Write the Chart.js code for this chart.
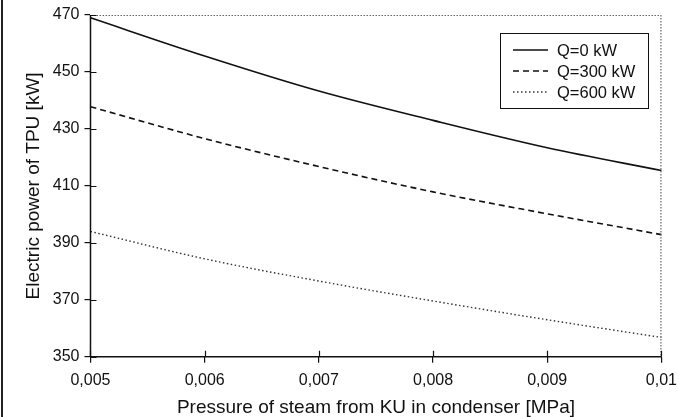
<!DOCTYPE html>
<html>
<head>
<meta charset="utf-8">
<script src="https://cdn.jsdelivr.net/npm/chart.js@4.4.1/dist/chart.umd.min.js"></script>
<style>
  html, body { margin: 0; padding: 0; background: #fff; }
  #wrap { width: 685px; height: 417px; position: relative; }
</style>
</head>
<body>
<div id="wrap"><canvas id="c" width="685" height="417"></canvas></div>
<script>
// ---- data ----
const xTickLabels = ['0,005', '0,006', '0,007', '0,008', '0,009', '0,01'];
const seriesLabels = ['Q=0 kW', 'Q=300 kW', 'Q=600 kW'];
const q0 = [469.0, 455.6, 443.3, 433.0, 423.4, 415.4];
const q300 = [437.8, 426.6, 416.8, 407.9, 400.2, 392.9];
const q600 = [394.0, 384.4, 376.6, 369.6, 363.0, 356.8];
const yMin = 350, yMax = 470, yStep = 20;
const xTitle = 'Pressure of steam from KU in condenser [MPa]';
const yTitle = 'Electric power of TPU [kW]';

const FONT = 'Liberation Sans, Arial, sans-serif';
const INK = '#111';

const framePlugin = {
  id: 'frame',
  beforeDraw(chart) {
    const ctx = chart.ctx;
    ctx.save();
    ctx.fillStyle = '#fff';
    ctx.fillRect(0, 0, chart.width, chart.height);
    ctx.strokeStyle = '#222';
    ctx.lineWidth = 2;
    ctx.beginPath();
    ctx.moveTo(2, 0); ctx.lineTo(2, chart.height);
    ctx.stroke();
    ctx.restore();
  },
  afterDraw(chart) {
    const ctx = chart.ctx;
    const a = chart.chartArea;
    const xs = chart.scales.x, ys = chart.scales.y;
    ctx.save();
    ctx.strokeStyle = '#666';
    ctx.lineWidth = 1.2;
    ctx.setLineDash([1.5, 1.5]);
    ctx.beginPath();
    ctx.moveTo(a.left, a.top + 0.5); ctx.lineTo(a.right, a.top + 0.5);
    ctx.moveTo(a.right - 0.5, a.top); ctx.lineTo(a.right - 0.5, a.bottom);
    ctx.stroke();
    ctx.setLineDash([]);
    ctx.strokeStyle = INK;
    ctx.lineWidth = 1.5;
    ctx.beginPath();
    ctx.moveTo(a.left, a.top); ctx.lineTo(a.left, a.bottom);
    ctx.moveTo(a.left, a.bottom); ctx.lineTo(a.right, a.bottom);
    ctx.stroke();
    ctx.lineWidth = 1.2;
    ctx.beginPath();
    ys.ticks.forEach(t => {
      const y = Math.round(ys.getPixelForValue(t.value)) + 0.5;
      ctx.moveTo(a.left, y); ctx.lineTo(a.left + 6, y);
    });
    xs.ticks.forEach((t, i) => {
      const x = Math.round(xs.getPixelForTick(i)) + 0.5;
      ctx.moveTo(x, a.bottom); ctx.lineTo(x, a.bottom - 6);
    });
    ctx.stroke();
    // legend box
    const bx = 500, by = 33, bw = 148, bh = 75;
    ctx.fillStyle = '#fff';
    ctx.fillRect(bx, by, bw, bh);
    ctx.strokeStyle = INK;
    ctx.lineWidth = 1;
    ctx.strokeRect(bx + 0.5, by + 0.5, bw, bh);
    ctx.font = '16.5px ' + FONT;
    ctx.textBaseline = 'middle';
    ctx.fillStyle = INK;
    chart.data.datasets.forEach((ds, i) => {
      const y = by + 17 + i * 21;
      ctx.strokeStyle = ds.borderColor;
      ctx.lineWidth = ds.borderWidth;
      ctx.setLineDash(ds.borderDash || []);
      ctx.beginPath();
      ctx.moveTo(bx + 13, y); ctx.lineTo(bx + 48, y);
      ctx.stroke();
      ctx.setLineDash([]);
      ctx.fillText(ds.label, bx + 57, y + 1);
    });
    ctx.restore();
  }
};

new Chart(document.getElementById('c'), {
  type: 'line',
  data: {
    labels: xTickLabels,
    datasets: [
      { label: seriesLabels[0], data: q0, borderColor: INK, borderWidth: 1.6, borderDash: [], pointRadius: 0, cubicInterpolationMode: 'monotone', fill: false },
      { label: seriesLabels[1], data: q300, borderColor: INK, borderWidth: 1.6, borderDash: [6, 4], pointRadius: 0, cubicInterpolationMode: 'monotone', fill: false },
      { label: seriesLabels[2], data: q600, borderColor: '#333', borderWidth: 1.4, borderDash: [1.5, 2.5], pointRadius: 0, cubicInterpolationMode: 'monotone', fill: false }
    ]
  },
  options: {
    responsive: false,
    animation: false,
    devicePixelRatio: 1,
    layout: { autoPadding: false, padding: { left: 22, right: 21, top: 15, bottom: 0 } },
    plugins: { legend: { display: false }, tooltip: { enabled: false } },
    scales: {
      x: {
        type: 'category',
        offset: false,
        border: { display: false },
        grid: { display: true, drawOnChartArea: false, drawTicks: true, tickLength: 6, color: INK, lineWidth: 1.2 },
        ticks: { color: INK, font: { family: FONT, size: 16 }, padding: 8, maxRotation: 0, autoSkip: false },
        title: { display: true, text: xTitle, color: INK, font: { family: FONT, size: 19, lineHeight: 1.0 }, padding: { top: 0, bottom: 0 } }
      },
      y: {
        min: yMin, max: yMax,
        border: { display: false },
        grid: { display: true, drawOnChartArea: false, drawTicks: true, tickLength: 6, color: INK, lineWidth: 1.2 },
        ticks: { stepSize: yStep, color: INK, font: { family: FONT, size: 16 }, padding: 5 },
        title: { display: true, text: yTitle, color: INK, font: { family: FONT, size: 19 }, padding: { top: 0, bottom: 3 } }
      }
    }
  },
  plugins: [framePlugin]
});
</script>
</body>
</html>
